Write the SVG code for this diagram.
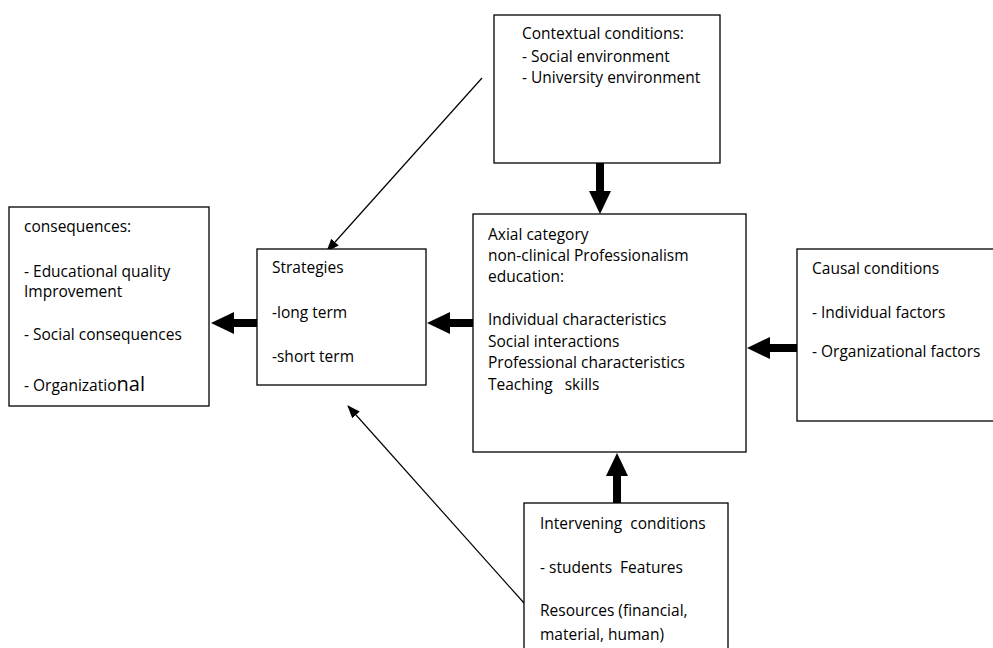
<svg xmlns="http://www.w3.org/2000/svg" width="993" height="648" viewBox="0 0 993 648">
<style>
  .box { fill: #ffffff; stroke: #000000; stroke-width: 1.3; }
  .t { font-family: "Open Sans", "Liberation Sans", sans-serif; font-size: 15.5px; fill: #000000; }
  .thick { stroke: #000000; stroke-width: 8; fill: none; marker-end: url(#bigHead); }
  .thin { stroke: #000000; stroke-width: 1.2; fill: none; marker-end: url(#smallHead); }
</style>
<defs>
  <marker id="bigHead" markerUnits="userSpaceOnUse" markerWidth="24" markerHeight="24" refX="1" refY="11" orient="auto">
    <path d="M0,0 L23,11 L0,22 z" fill="#000000"/>
  </marker>
  <marker id="smallHead" markerUnits="userSpaceOnUse" markerWidth="14" markerHeight="12" refX="12" refY="5" orient="auto">
    <path d="M0,0 L13,5 L0,10 z" fill="#000000"/>
  </marker>
</defs>
<rect width="993" height="648" fill="#ffffff"/>

<g id="connectors">
  <line class="thick" x1="600" y1="163" x2="600" y2="192"/>
  <line class="thick" x1="473" y1="323" x2="449" y2="323"/>
  <line class="thick" x1="797" y1="348" x2="769" y2="348"/>
  <line class="thick" x1="617" y1="503" x2="617" y2="475"/>
  <line class="thick" x1="257" y1="323" x2="233" y2="323"/>
  <line class="thin" x1="482" y1="78" x2="327" y2="251"/>
  <line class="thin" x1="524" y1="603" x2="348" y2="406"/>
</g>

<g id="contextual">
  <rect class="box" x="494" y="15" width="226" height="148"/>
  <text class="t" x="522" y="39">Contextual conditions:</text>
  <text class="t" x="522" y="62">- Social environment</text>
  <text class="t" x="522" y="83">- University environment</text>
</g>

<g id="consequences">
  <rect class="box" x="9" y="207" width="200" height="199"/>
  <text class="t" x="24" y="232">consequences:</text>
  <text class="t" x="24" y="277">- Educational quality</text>
  <text class="t" x="24" y="297">Improvement</text>
  <text class="t" x="24" y="340">- Social consequences</text>
  <text class="t" x="24" y="391">- Organizatio<tspan font-size="20">nal</tspan></text>
</g>

<g id="strategies">
  <rect class="box" x="257" y="249" width="169" height="136"/>
  <text class="t" x="272" y="273">Strategies</text>
  <text class="t" x="272" y="318">-long term</text>
  <text class="t" x="272" y="362">-short term</text>
</g>

<g id="axial">
  <rect class="box" x="473" y="214" width="273" height="238"/>
  <text class="t" x="488" y="240">Axial category</text>
  <text class="t" x="488" y="261">non-clinical Professionalism</text>
  <text class="t" x="488" y="282">education:</text>
  <text class="t" x="488" y="325">Individual characteristics</text>
  <text class="t" x="488" y="347">Social interactions</text>
  <text class="t" x="488" y="368">Professional characteristics</text>
  <text class="t" x="488" y="390" xml:space="preserve">Teaching   skills</text>
</g>

<g id="causal">
  <rect class="box" x="797" y="249" width="200" height="172"/>
  <text class="t" x="812" y="274">Causal conditions</text>
  <text class="t" x="812" y="318">- Individual factors</text>
  <text class="t" x="812" y="357">- Organizational factors</text>
</g>

<g id="intervening">
  <rect class="box" x="524" y="503" width="204" height="160"/>
  <text class="t" x="540" y="529" xml:space="preserve">Intervening  conditions</text>
  <text class="t" x="540" y="573" xml:space="preserve">- students  Features</text>
  <text class="t" x="540" y="616">Resources (financial,</text>
  <text class="t" x="540" y="640">material, human)</text>
</g>
</svg>
